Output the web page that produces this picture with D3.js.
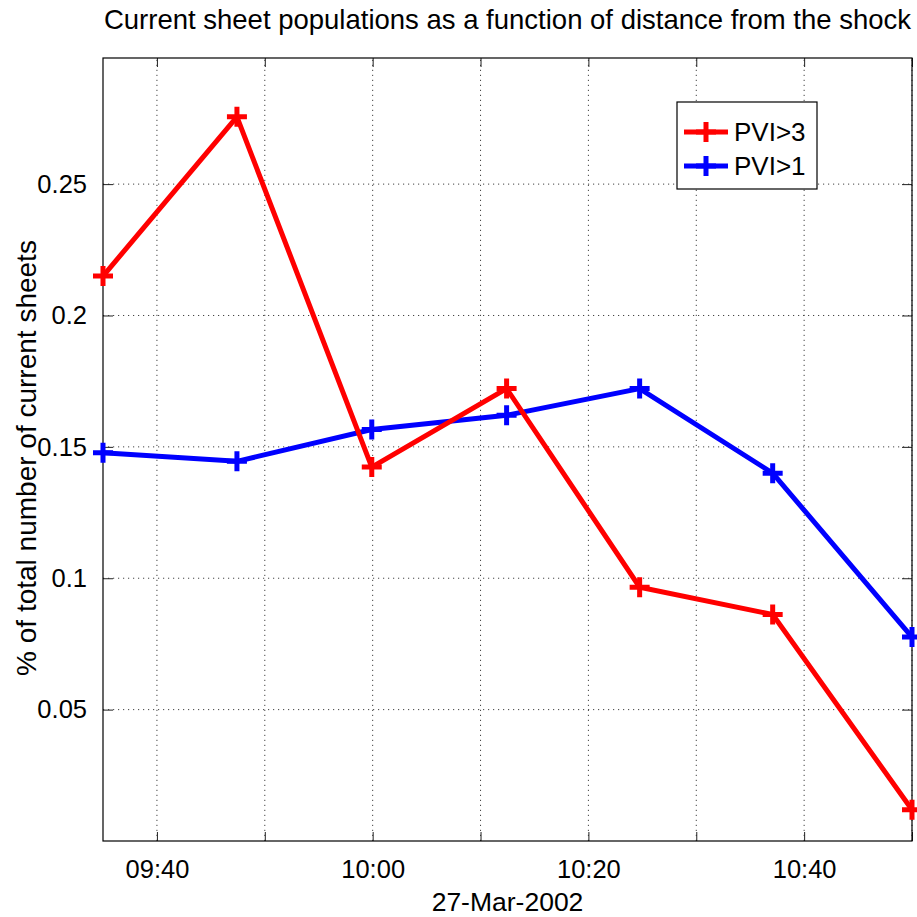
<!DOCTYPE html>
<html>
<head>
<meta charset="utf-8">
<script src="https://cdn.jsdelivr.net/npm/d3@7"></script>
<style>
  html, body { margin: 0; padding: 0; background: #fff; }
  svg { display: block; font-family: "Liberation Sans", Arial, Helvetica, sans-serif; }
</style>
</head>
<body>
<svg id="chart" width="917" height="917"></svg>
<script>
// ---- data ----
const times = ["09:35:00", "09:47:25", "09:59:55", "10:12:25", "10:24:45", "10:37:05", "10:50:00"];
const pvi3 = [0.215, 0.2756, 0.1423, 0.1722, 0.0966, 0.0862, 0.0119];
const pvi1 = [0.1478, 0.1445, 0.1566, 0.162, 0.1722, 0.140, 0.0776];
const seriesNames = ["PVI>3", "PVI>1"];
const seriesColors = ["#ff0000", "#0000ff"];
const xTickTimes = ["09:40", "09:50", "10:00", "10:10", "10:20", "10:30", "10:40", "10:50"];
const xTickLabels = ["09:40", "", "10:00", "", "10:20", "", "10:40", ""];
const yTicks = [0.05, 0.1, 0.15, 0.2, 0.25];
const yTickLabels = ["0.05", "0.1", "0.15", "0.2", "0.25"];
const xDomain = ["09:35:00", "10:50:00"];
const yDomain = [0, 0.298];
const titleText = "Current sheet populations as a function of distance from the shock";
const xLabelText = "27-Mar-2002";
const yLabelText = "% of total number of current sheets";

// ---- layout ----
const svg = d3.select("#chart");
const margin = { left: 103, right: 5, top: 58, bottom: 76 };
const W = 917, H = 917;
const x0 = margin.left, x1 = W - margin.right, y0 = H - margin.bottom, y1 = margin.top;

const day = "2002-03-27 ";
const parse = d3.timeParse("%Y-%m-%d %H:%M:%S");
const parseHM = d3.timeParse("%Y-%m-%d %H:%M");

const x = d3.scaleTime().domain(xDomain.map(t => parse(day + t))).range([x0, x1]);
const y = d3.scaleLinear().domain(yDomain).range([y0, y1]);

const tickDates = xTickTimes.map(t => parseHM(day + t));
const gridColor = "#444";

// grid
const grid = svg.append("g");
grid.selectAll("line.vx").data(tickDates).enter().append("line")
  .attr("x1", d => x(d)).attr("x2", d => x(d)).attr("y1", y0).attr("y2", y1)
  .attr("stroke", gridColor).attr("stroke-width", 1).attr("stroke-dasharray", "1.2,3.8");
grid.selectAll("line.hy").data(yTicks).enter().append("line")
  .attr("x1", x0).attr("x2", x1).attr("y1", d => y(d)).attr("y2", d => y(d))
  .attr("stroke", gridColor).attr("stroke-width", 1).attr("stroke-dasharray", "1.2,3.8");

// axes
const fmtIdx = (arr, labels) => (d, i) => labels[i];
const xAxisB = d3.axisBottom(x).tickValues(tickDates).tickSizeInner(-9).tickSizeOuter(0).tickPadding(20)
  .tickFormat((d, i) => xTickLabels[i]);
const xAxisT = d3.axisTop(x).tickValues(tickDates).tickSizeInner(-9).tickSizeOuter(0).tickFormat("");
const yAxisL = d3.axisLeft(y).tickValues(yTicks).tickSizeInner(-10).tickSizeOuter(0).tickPadding(16)
  .tickFormat((d, i) => yTickLabels[i]);
const yAxisR = d3.axisRight(y).tickValues(yTicks).tickSizeInner(-10).tickSizeOuter(0).tickFormat("");

function styleAxis(g) {
  g.select(".domain").remove();
  g.selectAll(".tick line").attr("stroke", "#222").attr("stroke-width", 1);
  g.selectAll(".tick text").attr("fill", "#000").style("font-size", "25.5px")
    .style("font-family", "'Liberation Sans', Arial, sans-serif");
}
svg.append("g").attr("transform", `translate(0,${y0})`).call(xAxisB).call(styleAxis);
svg.append("g").attr("transform", `translate(0,${y1})`).call(xAxisT).call(styleAxis);
svg.append("g").attr("transform", `translate(${x0},0)`).call(yAxisL).call(styleAxis);
svg.append("g").attr("transform", `translate(${x1},0)`).call(yAxisR).call(styleAxis);

// x tick labels: place baseline
svg.selectAll("g .tick text").filter(function() { return this.textContent.indexOf(":") >= 0; })
  .attr("dy", null).attr("y", 37);

// box
svg.append("rect").attr("x", x0).attr("y", y1).attr("width", x1 - x0).attr("height", y0 - y1)
  .attr("fill", "none").attr("stroke", "#000").attr("stroke-width", 1.2);

// series
const data = [pvi3, pvi1].map((vals, si) => ({
  name: seriesNames[si], color: seriesColors[si],
  pts: vals.map((v, i) => ({ t: parse(day + times[i]), v }))
}));
const line = d3.line().x(d => x(d.t)).y(d => y(d.v));
const plus = 10;

// draw blue first? In the reference red crosses over blue at some places; draw blue then red
const drawOrder = [data[1], data[0]];
drawOrder.forEach(s => {
  const g = svg.append("g");
  g.append("path").datum(s.pts).attr("d", line).attr("fill", "none")
    .attr("stroke", s.color).attr("stroke-width", 5).attr("stroke-linejoin", "miter");
  g.selectAll("path.m").data(s.pts).enter().append("path")
    .attr("d", d => `M${x(d.t) - plus},${y(d.v)}H${x(d.t) + plus}M${x(d.t)},${y(d.v) - plus}V${y(d.v) + plus}`)
    .attr("stroke", s.color).attr("stroke-width", 5).attr("fill", "none");
});

// legend
const lg = svg.append("g");
const lx = 677, ly = 102, lw = 140, lh = 87;
lg.append("rect").attr("x", lx).attr("y", ly).attr("width", lw).attr("height", lh)
  .attr("fill", "#fff").attr("stroke", "#000").attr("stroke-width", 1.2);
data.forEach((s, i) => {
  const ry = ly + 30 + i * 34;
  lg.append("line").attr("x1", lx + 7).attr("x2", lx + 51).attr("y1", ry).attr("y2", ry)
    .attr("stroke", s.color).attr("stroke-width", 5);
  lg.append("path").attr("d", `M${lx + 29 - plus},${ry}H${lx + 29 + plus}M${lx + 29},${ry - plus}V${ry + plus}`)
    .attr("stroke", s.color).attr("stroke-width", 5);
  lg.append("text").attr("x", lx + 57).attr("y", ry + 9).text(s.name)
    .style("font-size", "26px").attr("fill", "#000");
});

// title and labels
svg.append("text").attr("x", (x0 + x1) / 2).attr("y", 29).attr("text-anchor", "middle")
  .style("font-size", "27.5px").text(titleText);
svg.append("text").attr("x", (x0 + x1) / 2).attr("y", 911).attr("text-anchor", "middle")
  .style("font-size", "26.5px").text(xLabelText);
svg.append("text").attr("transform", `translate(36,458) rotate(-90)`).attr("text-anchor", "middle")
  .style("font-size", "28px").text(yLabelText);
</script>
</body>
</html>
